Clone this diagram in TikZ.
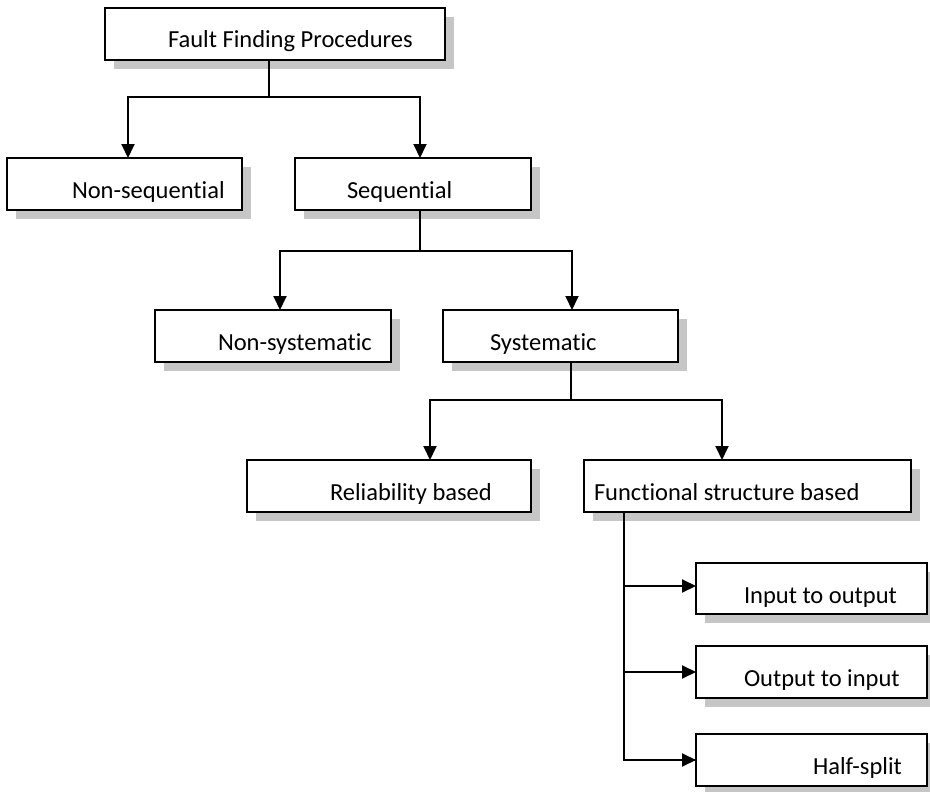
\documentclass[tikz,border=0pt]{standalone}
\usepackage{fontspec}
\setmainfont[RawFeature={-liga;-clig}]{Carlito}
\usetikzlibrary{arrows.meta}
\tikzset{
  boxc/.style={draw=black, line width=1.9pt, fill=white, rectangle, inner sep=0pt, outer sep=0pt},
  shadowc/.style={fill=gray!45},
  lbl/.style={inner sep=0pt, outer sep=0pt, font=\fontsize{24.5}{28}\selectfont},
  conn/.style={draw=black, line width=1.9pt},
  arr/.style={conn, -{Triangle[length=14pt,width=13pt]}}
}
\newcommand\mybox[7]{%
  \fill[shadowc] (#2+9,#3+9) rectangle (#4+9,#5+9);
  \node[boxc, anchor=north west, minimum width={(#4-#2)*1pt}, minimum height={(#5-#3)*1pt}] (#1) at (#2,#3) {};
  \node[lbl, anchor=base west] (#1-t) at (#6,#3+40) {#7};
}
\begin{document}
\begin{tikzpicture}[x=1pt,y=-1pt]
\useasboundingbox (0,0) rectangle (930,792);
\mybox{top}{105}{8}{445}{60}{168}{Fault Finding Procedures}
\mybox{nseq}{7}{158}{242}{210}{72}{Non-sequential}
\mybox{seq}{295}{158}{531}{210}{347}{Sequential}
\mybox{nsys}{155}{310}{391}{362}{218}{Non-systematic}
\mybox{sys}{443}{310}{678}{362}{490}{Systematic}
\mybox{rel}{247}{460}{531}{512}{330}{Reliability based}
\mybox{func}{584}{460}{911}{512}{594}{Functional structure based}
\mybox{io}{696}{563}{927}{614}{744}{Input to output}
\mybox{oi}{696}{646}{927}{698}{744}{Output to input}
\mybox{hs}{696}{734}{927}{786}{813}{Half-split}

% level 1
\coordinate (o1) at ([xshift=164pt]top.south west);
\coordinate (j1) at ([yshift=-37pt]o1);
\draw[conn] (o1) -- (j1);
\draw[arr] (j1) -| ([xshift=121pt]nseq.north west);
\draw[arr] (j1) -| ([xshift=125pt]seq.north west);
% level 2
\coordinate (o2) at ([xshift=125pt]seq.south west);
\coordinate (j2) at ([yshift=-41pt]o2);
\draw[conn] (o2) -- (j2);
\draw[arr] (j2) -| ([xshift=125pt]nsys.north west);
\draw[arr] (j2) -| ([xshift=129pt]sys.north west);
% level 3
\coordinate (o3) at ([xshift=128pt]sys.south west);
\coordinate (j3) at ([yshift=-38pt]o3);
\draw[conn] (o3) -- (j3);
\draw[arr] (j3) -| ([xshift=183pt]rel.north west);
\draw[arr] (j3) -| ([xshift=138pt]func.north west);
% level 4
\coordinate (o4) at ([xshift=40pt]func.south west);
\draw[conn] (o4) |- (hs.west);
\draw[arr] (o4) |- ([yshift=2.5pt]io.west);
\draw[arr] (o4) |- (oi.west);
\draw[arr] (o4) |- (hs.west);
\end{tikzpicture}
\end{document}
